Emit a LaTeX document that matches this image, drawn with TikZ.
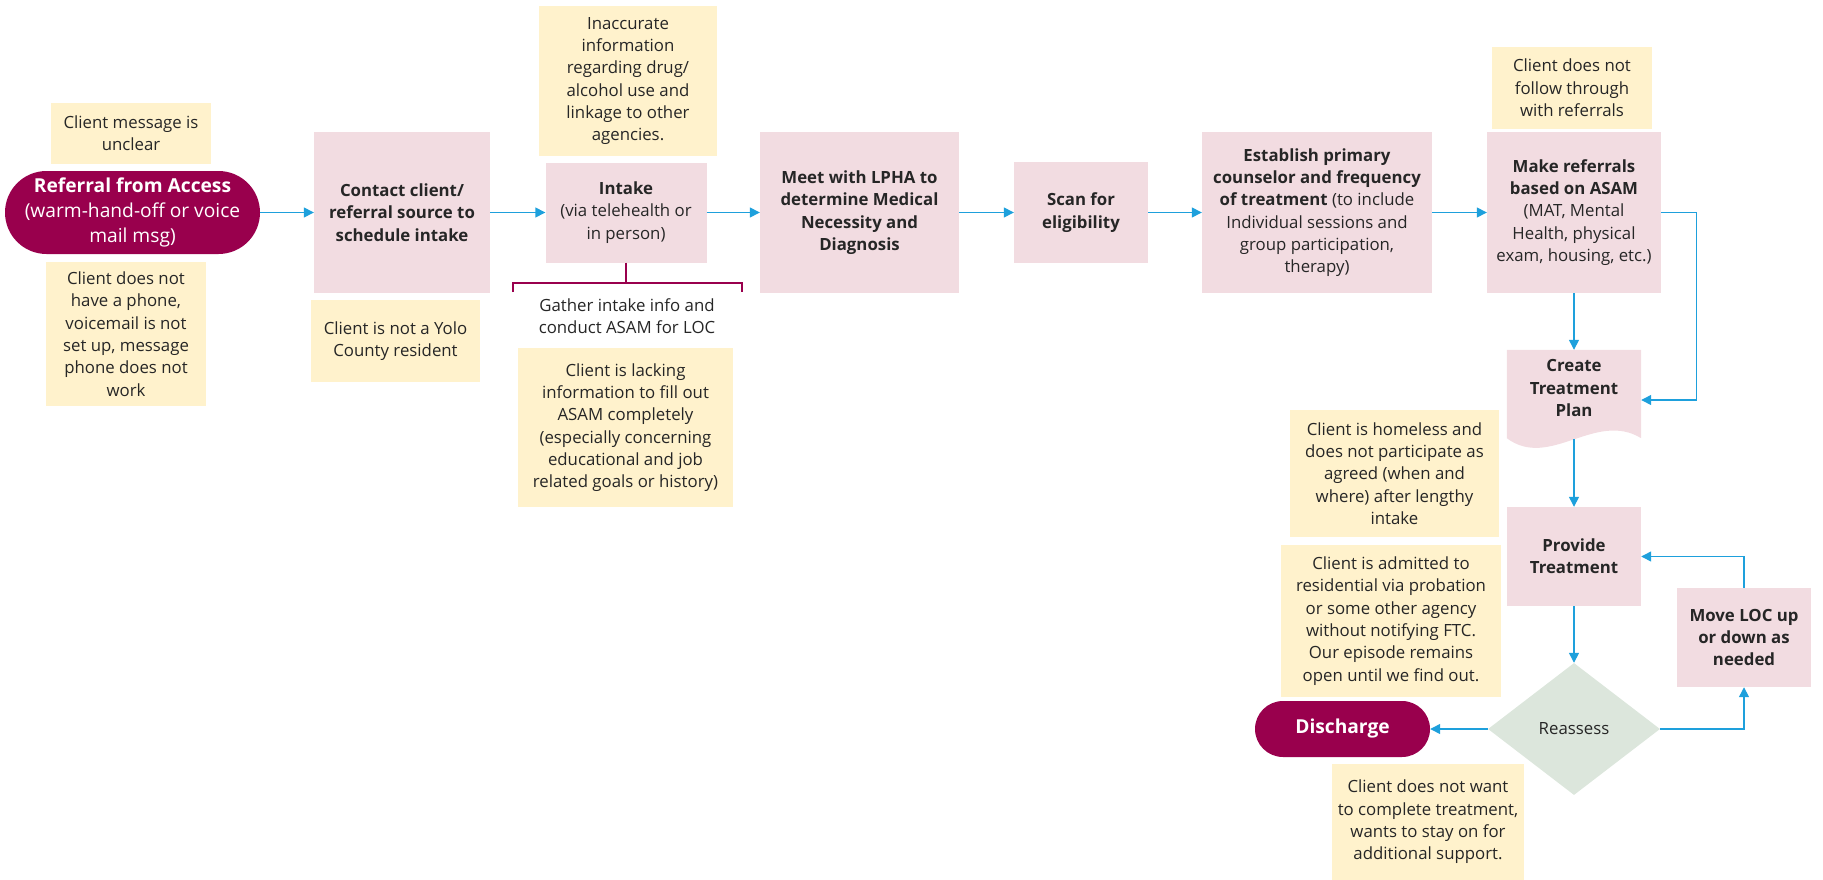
\documentclass[tikz,border=0pt]{standalone}
\usepackage{fontspec}
\setmainfont{Open Sans}
\usetikzlibrary{arrows.meta,shapes.geometric}
\definecolor{maroonc}{RGB}{153,0,77}
\definecolor{pinkc}{RGB}{242,220,225}
\definecolor{notec}{RGB}{255,242,204}
\definecolor{greenc}{RGB}{220,230,220}
\definecolor{arrowc}{RGB}{30,160,220}
\definecolor{txt}{RGB}{38,38,38}
\newcommand\fnorm{\fontsize{16.8}{22.3}\selectfont}
\newcommand\fbig{\fontsize{19.2}{25}\selectfont}
\begin{document}
\begin{tikzpicture}[x=1pt,y=-1pt,
  base/.style={inner sep=0pt, align=center, text=txt, font=\fnorm},
  proc/.style={base, fill=pinkc, font=\fnorm\bfseries},
  mixed/.style={base, fill=pinkc, font=\fnorm},
  note/.style={base, fill=notec},
  term/.style={base, fill=maroonc, text=white, font=\fbig},
  flow/.style={draw=arrowc, line width=1.4pt, -{Triangle[length=10pt,width=10pt]}},
  bracket/.style={draw=maroonc, line width=1.3pt},
  sz/.style 2 args={minimum width=#1, minimum height=#2}
]
\useasboundingbox (0,0) rectangle (1823,880);

\node[note, sz={160}{61}] (msg) at (131,133.5) {Client message is\\unclear};
\node[term, sz={255}{83}, rounded corners=41.5pt] (ref) at (132.5,212.5) {\textbf{Referral from Access}\\(warm-hand-off or voice\\mail msg)};
\node[note, sz={160}{144}] (phone) at (126,334) {Client does not\\have a phone,\\voicemail is not\\set up, message\\phone does not\\work};

\node[proc, sz={176}{161}] (contact) at (402,212.5) {Contact client/\\referral source to\\schedule intake};
\node[note, sz={169}{82}] (yolo) at (395.5,341) {Client is not a Yolo\\County resident};

\node[note, sz={178}{150}] (inacc) at (628,81) {Inaccurate\\information\\regarding drug/\\alcohol use and\\linkage to other\\agencies.};
\node[mixed, sz={161}{100}] (intake) at (626,212.5) {\textbf{Intake}\\(via telehealth or\\in person)};
\node[base] (gather) at (627,316.5) {Gather intake info and\\conduct ASAM for LOC};
\node[note, sz={215}{159}] (lack) at (625.5,427.5) {Client is lacking\\information to fill out\\ASAM completely\\(especially concerning\\educational and job\\related goals or history)};

\node[proc, sz={199}{161}] (meet) at (859.5,212.5) {Meet with LPHA to\\determine Medical\\Necessity and\\Diagnosis};
\node[proc, sz={134}{101}] (scan) at (1081,212.5) {Scan for\\eligibility};
\node[mixed, sz={230}{161}] (estab) at (1317,212.5) {\textbf{Establish primary}\\\textbf{counselor and frequency}\\\textbf{of treatment} (to include\\Individual sessions and\\group participation,\\therapy)};

\node[note, sz={160}{82}] (follow) at (1572,88) {Client does not\\follow through\\with referrals};
\node[mixed, sz={174}{161}] (make) at (1574,212.5) {\textbf{Make referrals}\\\textbf{based on ASAM}\\(MAT, Mental\\Health, physical\\exam, housing, etc.)};

\node[sz={134}{88}, inner sep=0pt] (create) at (1574,394) {};
\fill[pinkc] (create.north west) -- (create.north east) -- (create.south east)
  .. controls +(-46,-28) and +(43,32) .. (create.south west) -- cycle;
\node[base, font=\fnorm\bfseries] (createtxt) at (1574,388) {Create\\Treatment\\Plan};
\coordinate (createbot) at (1574,439);

\node[note, sz={209}{127}] (homeless) at (1394.5,473.5) {Client is homeless and\\does not participate as\\agreed (when and\\where) after lengthy\\intake};
\node[note, sz={220}{152}] (admit) at (1391,621) {Client is admitted to\\residential via probation\\or some other agency\\without notifying FTC.\\Our episode remains\\open until we find out.};
\node[proc, sz={134}{99}] (provide) at (1574,556.5) {Provide\\Treatment};
\node[proc, sz={134}{99}] (move) at (1744,637.5) {Move LOC up\\or down as\\needed};
\node[base, diamond, fill=greenc, sz={172}{132}] (reassess) at (1574,729) {Reassess};
\node[term, font=\fbig\bfseries, sz={175}{56}, rounded corners=28pt] (disc) at (1342.5,729) {Discharge};
\node[note, sz={192}{116}] (support) at (1428,822) {Client does not want\\to complete treatment,\\wants to stay on for\\additional support.};

\draw[flow] (ref) -- (contact);
\draw[flow] (contact) -- (intake);
\draw[flow] (intake) -- (meet);
\draw[flow] (meet) -- (scan);
\draw[flow] (scan) -- (estab);
\draw[flow] (estab) -- (make);
\draw[flow] (make.south) -- (create.north);
\draw[flow] (make.east) -- ++(35,0) |- ([yshift=-6pt]create.east);
\draw[flow] (createbot) -- (provide.north);
\draw[flow] (provide) -- (reassess);
\draw[flow] (reassess.west) -- (disc.east);
\draw[flow] (reassess.east) -| (move.south);
\draw[flow] (move.north) |- (provide.east);

\draw[bracket] (intake.south) -- (intake.south |- 0,283);
\draw[bracket] (513,292) |- (742,283) -- (742,292);
\end{tikzpicture}
\end{document}
